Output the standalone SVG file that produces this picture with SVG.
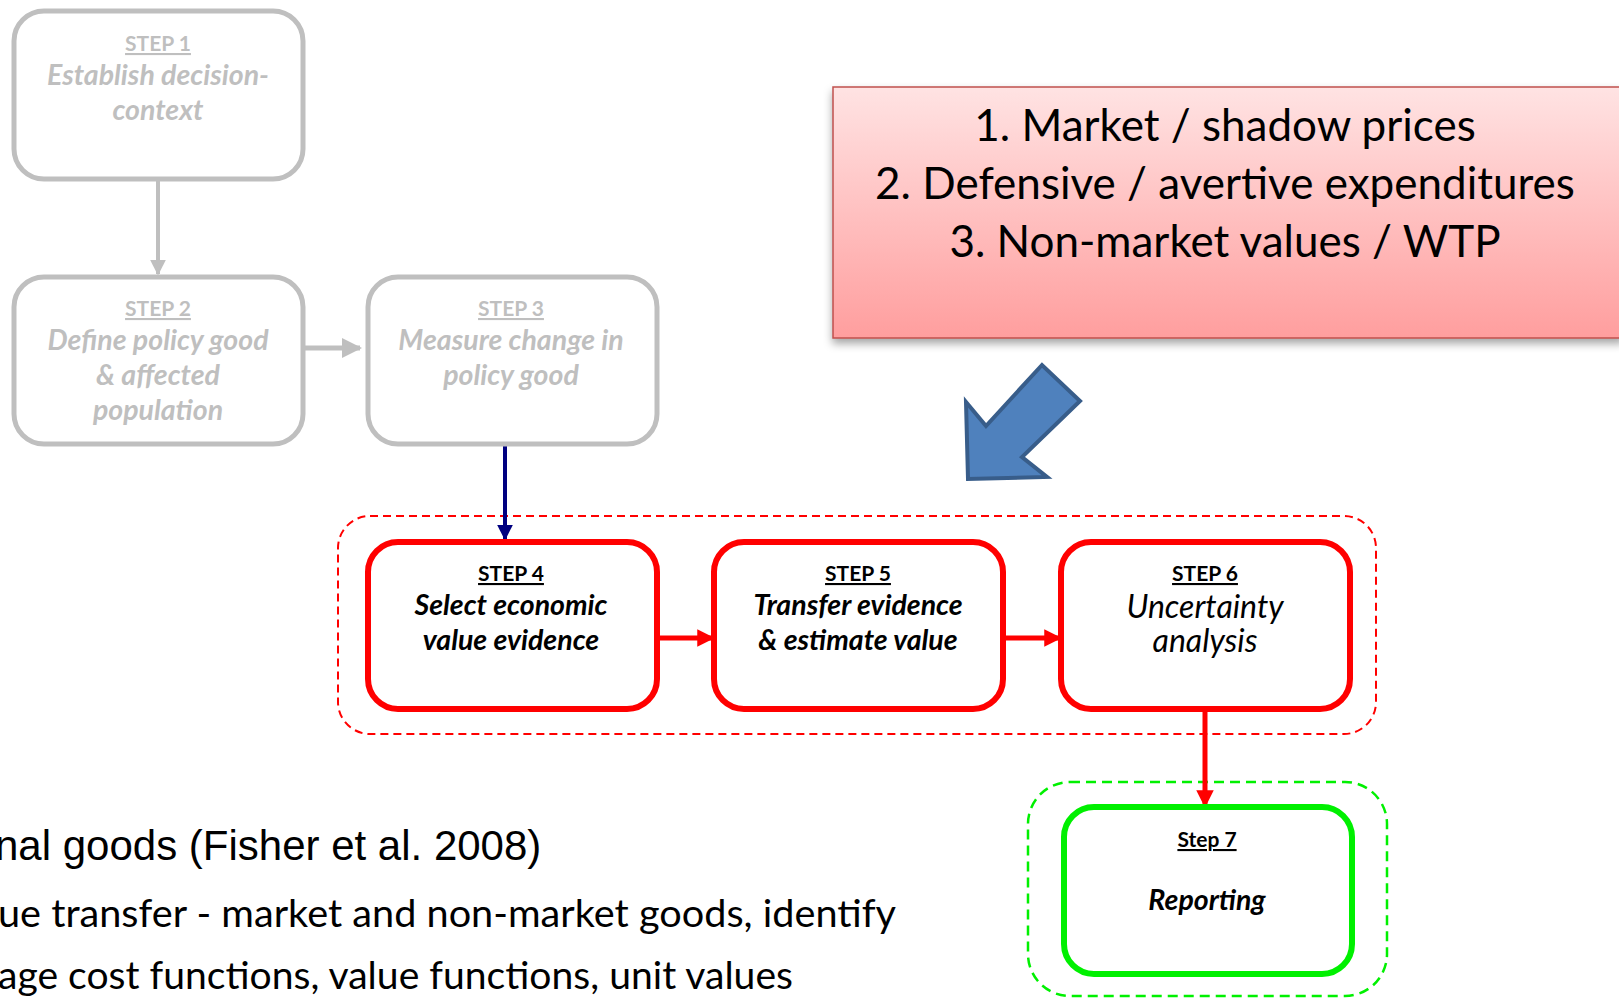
<svg xmlns="http://www.w3.org/2000/svg" width="1619" height="998" viewBox="0 0 1619 998">
<style>
.gbox{fill:#fff;stroke:#BFBFBF;stroke-width:5}
.rbox{fill:#fff;stroke:#FF0000;stroke-width:6}
.grbox{fill:#fff;stroke:#00F000;stroke-width:6}
.t{font-family:Lato,"Liberation Sans",sans-serif;text-anchor:middle}
.hd{font-size:21px;font-weight:bold;text-decoration:underline}
.bi{font-size:28.5px;font-weight:bold;font-style:italic}
.gray{fill:#BFBFBF}
.blk{fill:#000}
.pk{font-family:Lato,"Liberation Sans",sans-serif;font-size:44px;fill:#000;text-anchor:middle}
.bt{font-family:Lato,"Liberation Sans",sans-serif;font-size:39.5px;fill:#000}
</style>
<defs>
<linearGradient id="pg" x1="0" y1="0" x2="0" y2="1">
<stop offset="0" stop-color="#FFE3E3"/>
<stop offset="1" stop-color="#FF9E9E"/>
</linearGradient>
<filter id="sh" x="-5%" y="-5%" width="110%" height="130%">
<feDropShadow dx="0" dy="5" stdDeviation="4" flood-color="#000" flood-opacity="0.35"/>
</filter>
<marker id="ag" viewBox="0 0 10 10" refX="9" refY="5" markerWidth="4" markerHeight="4" markerUnits="strokeWidth" orient="auto"><path d="M0,0L10,5L0,10z" fill="#BFBFBF"/></marker>
<marker id="ab" viewBox="0 0 10 10" refX="9" refY="5" markerWidth="4" markerHeight="4" markerUnits="strokeWidth" orient="auto"><path d="M0,0L10,5L0,10z" fill="#000080"/></marker>
<marker id="ar" viewBox="0 0 10 10" refX="9" refY="5" markerWidth="3.5" markerHeight="3.5" markerUnits="strokeWidth" orient="auto"><path d="M0,0L10,5L0,10z" fill="#FF0000"/></marker>
</defs>

<g id="group-red" fill="none" stroke="#FF0000" stroke-width="2" stroke-dasharray="8,5">
<rect x="338" y="516" width="1038" height="218" rx="32"/>
</g>
<g id="group-green" fill="none" stroke="#00F000" stroke-width="2.5" stroke-dasharray="10,6">
<rect x="1028" y="782" width="359" height="214" rx="42"/>
</g>

<g id="connectors" fill="none">
<line x1="158" y1="180" x2="158" y2="274" stroke="#BFBFBF" stroke-width="4" marker-end="url(#ag)"/>
<line x1="304" y1="348" x2="360" y2="348" stroke="#BFBFBF" stroke-width="5" marker-end="url(#ag)"/>
<line x1="505" y1="445" x2="505" y2="539" stroke="#000080" stroke-width="4" marker-end="url(#ab)"/>
<line x1="658" y1="638" x2="713" y2="638" stroke="#FF0000" stroke-width="5" marker-end="url(#ar)"/>
<line x1="1004" y1="638" x2="1060" y2="638" stroke="#FF0000" stroke-width="5" marker-end="url(#ar)"/>
<line x1="1205" y1="710" x2="1205" y2="806" stroke="#FF0000" stroke-width="5" marker-end="url(#ar)"/>
</g>

<g id="step1">
<rect class="gbox" x="14" y="11" width="289" height="168" rx="30"/>
<text class="t hd gray" x="158" y="51">STEP 1</text>
<text class="t bi gray" x="158" y="85">Establish decision-</text>
<text class="t bi gray" x="158" y="120">context</text>
</g>

<g id="step2">
<rect class="gbox" x="14" y="277" width="289" height="167" rx="30"/>
<text class="t hd gray" x="158" y="316">STEP 2</text>
<text class="t bi gray" x="158" y="350">Define policy good</text>
<text class="t bi gray" x="158" y="385">&amp; affected</text>
<text class="t bi gray" x="158" y="420">population</text>
</g>

<g id="step3">
<rect class="gbox" x="368" y="277" width="289" height="167" rx="30"/>
<text class="t hd gray" x="511" y="316">STEP 3</text>
<text class="t bi gray" x="511" y="350">Measure change in</text>
<text class="t bi gray" x="511" y="385">policy good</text>
</g>

<g id="step4">
<rect class="rbox" x="368" y="542" width="289" height="167" rx="30"/>
<text class="t hd blk" x="511" y="581">STEP 4</text>
<text class="t bi blk" x="511" y="615">Select economic</text>
<text class="t bi blk" x="511" y="650">value evidence</text>
</g>

<g id="step5">
<rect class="rbox" x="714" y="542" width="289" height="167" rx="30"/>
<text class="t hd blk" x="858" y="581">STEP 5</text>
<text class="t bi blk" x="858" y="615">Transfer evidence</text>
<text class="t bi blk" x="858" y="650">&amp; estimate value</text>
</g>

<g id="step6">
<rect class="rbox" x="1061" y="542" width="289" height="167" rx="30"/>
<text class="t hd blk" x="1205" y="581">STEP 6</text>
<text class="t blk" x="1205" y="618" font-size="32" font-style="italic">Uncertainty</text>
<text class="t blk" x="1205" y="652" font-size="32" font-style="italic">analysis</text>
</g>

<g id="step7">
<rect class="grbox" x="1064" y="807" width="288" height="167" rx="30"/>
<text class="t hd blk" x="1207" y="847">Step 7</text>
<text class="t bi blk" x="1207" y="910">Reporting</text>
</g>

<g id="methods">
<rect x="833" y="87" width="790" height="251" fill="url(#pg)" stroke="#C0504D" stroke-width="1.5" filter="url(#sh)"/>
<text class="pk" x="1225" y="141">1. Market / shadow prices</text>
<text class="pk" x="1225" y="199">2. Defensive / avertive expenditures</text>
<text class="pk" x="1225" y="257">3. Non-market values / WTP</text>
</g>

<g id="big-arrow">
<polygon points="966,402 986,426 1042,365 1080,401 1022,457 1047,477 968,479" fill="#4F81BD" stroke="#385D8A" stroke-width="4" stroke-linejoin="miter"/>
</g>

<g id="body-text">
<text x="-5" y="860" font-family="'Liberation Sans',Arial,sans-serif" font-size="42" fill="#000">nal goods (Fisher et al. 2008)</text>
<text class="bt" x="-2" y="927" textLength="898" lengthAdjust="spacingAndGlyphs">ue transfer - market and non-market goods, identify</text>
<text class="bt" x="-2" y="989" textLength="795" lengthAdjust="spacingAndGlyphs">age cost functions, value functions, unit values</text>
</g>
</svg>
